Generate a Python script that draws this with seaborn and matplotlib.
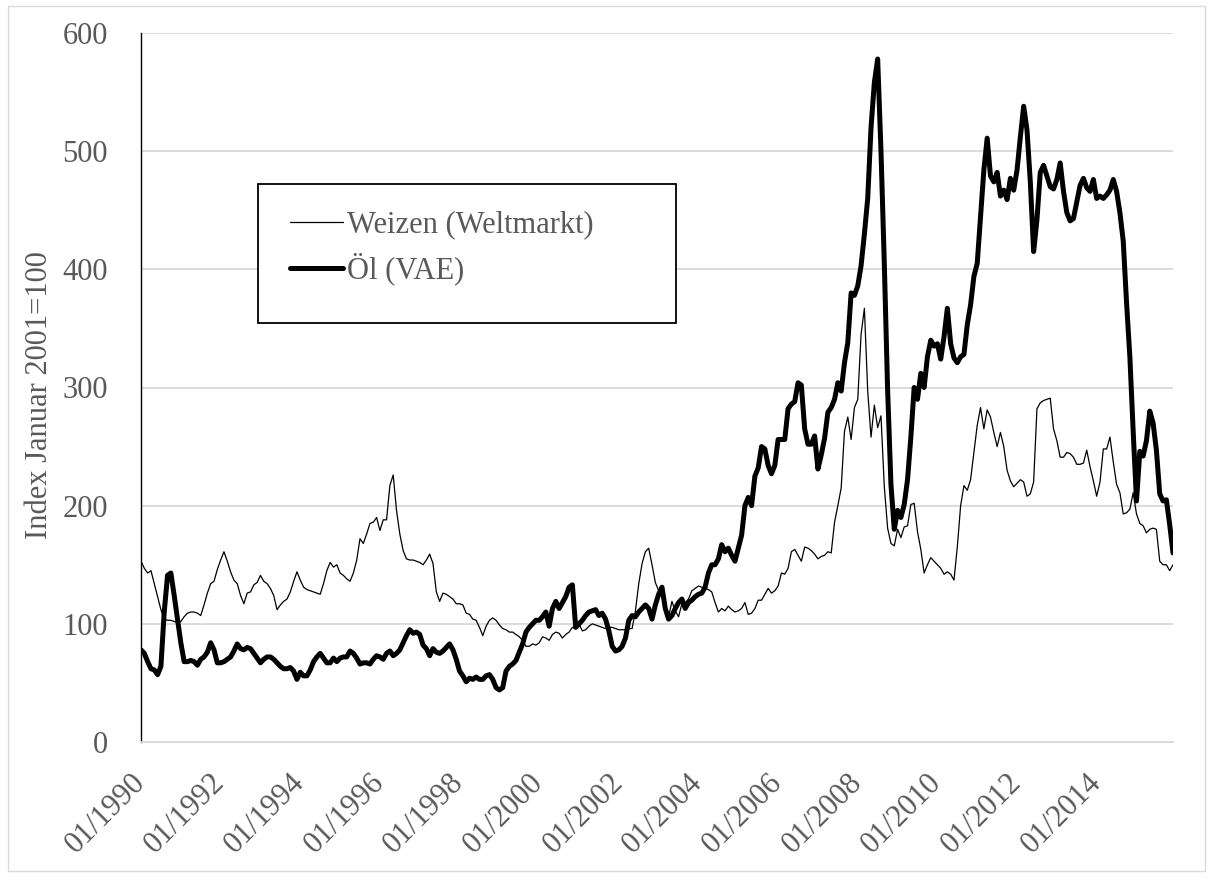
import numpy as np
import pandas as pd
import matplotlib
matplotlib.use("Agg")
import matplotlib.pyplot as plt
from matplotlib.patches import Rectangle
import seaborn as sns

# ---------------- data (monthly, 01/1990 - 12/2015, Index Januar 2001 = 100) ----------------
series_names = ["Weizen (Weltmarkt)", "Öl (VAE)"]

weizen = [
    153, 147, 143, 145, 134, 123, 112, 104, 103, 103, 102, 101,   # 1990
    102, 106, 109, 110, 110, 109, 107, 116, 126, 134, 136, 146,   # 1991
    154, 161, 153, 144, 137, 134, 124, 117, 126, 127, 133, 135,   # 1992
    141, 136, 134, 130, 124, 112, 116, 119, 121, 127, 136, 144,   # 1993
    137, 131, 129, 128, 127, 126, 125, 134, 145, 152, 148, 150,   # 1994
    143, 141, 138, 136, 143, 154, 172, 168, 176, 185, 186, 190,   # 1995
    179, 188, 188, 217, 226, 196, 176, 162, 155, 154, 154, 153,   # 1996
    152, 150, 154, 159, 151, 127, 119, 126, 125, 123, 121, 117,   # 1997
    117, 116, 109, 108, 104, 103, 97, 90, 98, 103, 105, 103,      # 1998
    99, 96, 95, 93, 93, 91, 89, 86, 81, 81, 83, 82,               # 1999
    84, 89, 88, 86, 91, 93, 92, 88, 91, 93, 97, 96,               # 2000
    100, 94, 95, 98, 100, 99, 98, 97, 96, 97, 97, 96,             # 2001
    95, 95, 95, 96, 96, 111, 134, 151, 161, 164, 150, 135,        # 2002
    128, 123, 115, 106, 119, 111, 106, 117, 118, 121, 128, 130,   # 2003
    132, 131, 130, 129, 127, 118, 110, 113, 111, 115, 112, 110,   # 2004
    111, 113, 118, 108, 109, 113, 120, 120, 125, 130, 126, 128,   # 2005
    132, 143, 142, 147, 161, 163, 158, 153, 165, 164, 162, 159,   # 2006
    155, 157, 158, 161, 160, 186, 200, 215, 263, 275, 256, 283,   # 2007
    290, 345, 367, 297, 258, 285, 266, 276, 216, 181, 168, 166,   # 2008
    180, 173, 182, 183, 201, 202, 178, 163, 143, 150, 156, 153,   # 2009
    150, 147, 142, 144, 142, 137, 165, 200, 217, 213, 222, 245,   # 2010
    268, 283, 265, 281, 275, 262, 250, 262, 250, 230, 221, 216,   # 2011
    219, 222, 220, 208, 210, 220, 282, 287, 289, 290, 291, 265,   # 2012
    255, 241, 241, 245, 244, 241, 235, 235, 236, 247, 233, 221,   # 2013
    208, 220, 248, 248, 258, 237, 218, 211, 193, 194, 197, 211,   # 2014
    193, 185, 183, 177, 180, 181, 180, 153, 150, 150, 145, 150,   # 2015
]

oel = [
    78, 75, 68, 62, 61, 57, 64, 110, 141, 143, 124, 104,          # 1990
    84, 68, 68, 69, 68, 65, 70, 72, 76, 84, 78, 67,               # 1991
    67, 68, 70, 72, 77, 83, 79, 78, 80, 79, 75, 71,               # 1992
    67, 70, 72, 72, 70, 67, 64, 62, 62, 63, 60, 53,               # 1993
    59, 56, 56, 61, 68, 72, 75, 71, 67, 67, 71, 68,               # 1994
    71, 72, 72, 77, 75, 71, 66, 67, 67, 66, 70, 73,               # 1995
    72, 70, 75, 77, 73, 75, 78, 84, 90, 95, 92, 93,               # 1996
    91, 82, 79, 73, 79, 76, 75, 77, 80, 83, 78, 70,               # 1997
    60, 56, 51, 54, 53, 55, 53, 53, 56, 57, 53, 46,               # 1998
    44, 46, 60, 64, 66, 69, 76, 83, 93, 97, 100, 103,             # 1999
    103, 106, 110, 98, 113, 119, 113, 118, 123, 131, 133, 97,     # 2000
    100, 103, 107, 110, 111, 112, 107, 109, 104, 94, 81, 77,      # 2001
    78, 81, 88, 103, 107, 106, 110, 113, 116, 113, 104, 116,      # 2002
    125, 131, 113, 104, 107, 113, 118, 121, 113, 118, 120, 123,   # 2003
    125, 126, 131, 143, 150, 150, 155, 167, 161, 164, 158, 153,   # 2004
    164, 175, 200, 207, 200, 225, 232, 250, 248, 234, 227, 234,   # 2005
    256, 256, 256, 282, 286, 288, 304, 302, 265, 252, 252, 259,   # 2006
    231, 243, 257, 279, 283, 290, 304, 297, 321, 338, 380, 378,   # 2007
    386, 403, 430, 460, 520, 558, 578, 500, 405, 298, 218, 180,   # 2008
    196, 190, 201, 222, 258, 300, 290, 312, 300, 326, 340, 335,   # 2009
    337, 324, 343, 367, 337, 325, 321, 326, 328, 353, 370, 394,   # 2010
    405, 444, 484, 511, 479, 474, 482, 462, 467, 459, 477, 467,   # 2011
    484, 512, 538, 518, 474, 415, 442, 482, 488, 479, 470, 468,   # 2012
    476, 490, 466, 448, 441, 443, 457, 471, 477, 469, 466, 476,   # 2013
    460, 462, 460, 463, 467, 476, 466, 448, 424, 372, 326, 263,   # 2014
    204, 246, 242, 255, 280, 270, 247, 210, 204, 205, 184, 160,   # 2015
]

tick_labels = ["01/1990", "01/1992", "01/1994", "01/1996", "01/1998", "01/2000",
               "01/2002", "01/2004", "01/2006", "01/2008", "01/2010", "01/2012",
               "01/2014"]
tick_step = 24
y_ticks = [0, 100, 200, 300, 400, 500, 600]
y_label = "Index Januar 2001=100"

# ---------------- styling ----------------
sns.set_style("white")
plt.rcParams["font.family"] = ["Liberation Serif", "DejaVu Serif"]
TEXT = "#595959"
GRID = "#d9d9d9"
FS = 22

n = len(oel)
df = pd.DataFrame({"Monat": np.arange(n), "Weizen": weizen, "Oel": oel})

W, H = 1213, 877
fig = plt.figure(figsize=(W / 100, H / 100), dpi=100)
L, R, T, B = 141, 1173, 33, 742
ax = fig.add_axes([L / W, 1 - B / H, (R - L) / W, (B - T) / H])

sns.lineplot(data=df, x="Monat", y="Weizen", ax=ax, color="black",
             linewidth=0.9, label=series_names[0])
sns.lineplot(data=df, x="Monat", y="Oel", ax=ax, color="black",
             linewidth=3.6, label=series_names[1])

ax.set_xlim(0, n - 1)
ax.set_ylim(0, 600)
ax.set_yticks(y_ticks)
ax.set_xticks(np.arange(0, n, tick_step)[:len(tick_labels)])
ax.set_xticklabels(tick_labels)
ax.set_xlabel("")
ax.set_ylabel(y_label, fontsize=FS, color=TEXT, va="center")
ax.yaxis.set_label_coords((40 - L) / (R - L), 0.49)

ax.grid(axis="y", color=GRID, linewidth=1.3)
ax.grid(axis="x", visible=False)
ax.set_axisbelow(True)

for s in ["top", "right"]:
    ax.spines[s].set_visible(False)
ax.spines["left"].set_color("black")
ax.spines["left"].set_linewidth(1.0)
ax.spines["bottom"].set_color(GRID)
ax.spines["bottom"].set_linewidth(1.3)

ax.tick_params(axis="y", length=0, pad=24, labelsize=FS, labelcolor=TEXT)
ax.tick_params(axis="x", length=0, pad=26, labelsize=FS, labelcolor=TEXT)
for lab in ax.get_xticklabels():
    lab.set_rotation(45)
    lab.set_ha("right")
    lab.set_va("center")
    lab.set_rotation_mode("anchor")

# legend box (white filled, black border) and entries
ax.add_patch(Rectangle(((258 - L) / (R - L), (B - 323) / (B - T)),
                       (676 - 258) / (R - L), (323 - 184) / (B - T),
                       transform=ax.transAxes, facecolor="white",
                       edgecolor="black", linewidth=1.3, zorder=4))
leg = ax.legend(loc="center left",
                bbox_to_anchor=((290 - L) / (R - L), (B - 248) / (B - T)),
                frameon=False, fontsize=FS, handlelength=1.75,
                handletextpad=0.12, labelspacing=0.42, borderpad=0,
                borderaxespad=0, labelcolor=TEXT)
leg.set_zorder(5)

# chart area border
fig.add_artist(Rectangle((8 / W, 6 / H), (1205 - 8) / W, (871 - 6) / H,
                         transform=fig.transFigure, fill=False,
                         edgecolor=GRID, linewidth=1.0))

fig.savefig("out.png", dpi=100)
